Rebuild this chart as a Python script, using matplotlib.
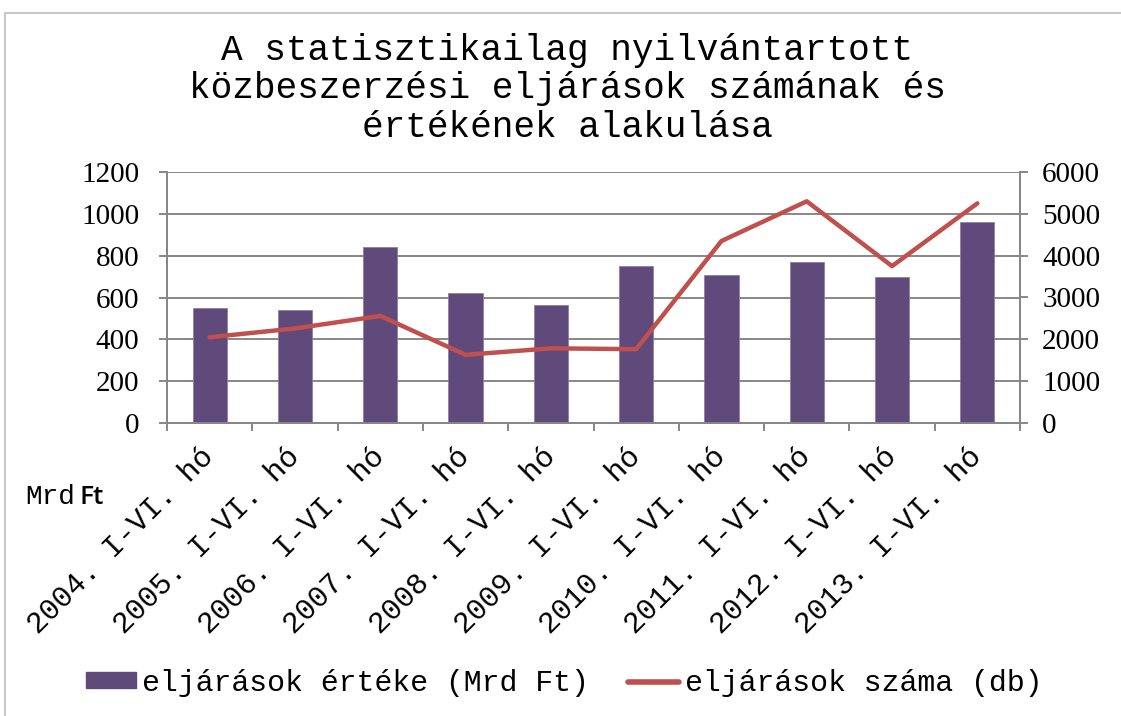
import matplotlib
matplotlib.use("Agg")
import matplotlib.pyplot as plt
from matplotlib.patches import Patch, Rectangle
from matplotlib.lines import Line2D
import numpy as np

categories = ["2004. I-VI. hó", "2005. I-VI. hó", "2006. I-VI. hó", "2007. I-VI. hó",
              "2008. I-VI. hó", "2009. I-VI. hó", "2010. I-VI. hó", "2011. I-VI. hó",
              "2012. I-VI. hó", "2013. I-VI. hó"]
ertek = [550, 540, 840, 620, 565, 750, 706, 771, 696, 960]
szam = [2050, 2260, 2560, 1630, 1785, 1765, 4350, 5300, 3750, 5250]
left_ticks = [0, 200, 400, 600, 800, 1000, 1200]
right_ticks = [0, 1000, 2000, 3000, 4000, 5000, 6000]

title = "A statisztikailag nyilvántartott\nközbeszerzési eljárások számának és\nértékének alakulása"

BAR = "#604A7B"
LINE = "#C0504D"
GRID = "#878787"
MONO = "Liberation Mono"
SERIF = "Liberation Serif"

fig = plt.figure(figsize=(11.21, 7.16), dpi=100)
ax = fig.add_axes([167/1121, 1-423/716, (1020-167)/1121, (423-172)/716])
ax2 = ax.twinx()

x = np.arange(len(categories))
ax.bar(x, ertek, width=0.4, color=BAR, edgecolor="#8E7FA5", linewidth=0.6, zorder=3)
ax.set_xlim(-0.5, len(categories) - 0.5)
ax.set_ylim(0, 1200)
ax.set_yticks(left_ticks)
ax.set_yticklabels([str(v) for v in left_ticks], fontfamily=SERIF, fontsize=21)
ax.yaxis.grid(True, color=GRID, linewidth=1.4, zorder=0)
ax.set_axisbelow(True)

ax2.plot(x, szam, color=LINE, linewidth=3.2, solid_capstyle="round", zorder=4)
ax2.set_ylim(0, 6000)
ax2.set_yticks(right_ticks)
ax2.set_yticklabels([str(v) for v in right_ticks], fontfamily=SERIF, fontsize=21)

ax.set_xticks(x)
ax.set_xticklabels(categories, rotation=45, ha="right", va="center",
                   rotation_mode="anchor", fontfamily=MONO, fontsize=21.5)
ax.set_xticks(np.arange(-0.5, len(categories)), minor=True)
ax.tick_params(axis="x", which="major", length=0, pad=21)
ax.tick_params(axis="x", which="minor", length=6, color=GRID, width=1.4, direction="out")
ax.tick_params(axis="y", length=6, color=GRID, width=1.4, pad=14)
ax2.tick_params(axis="y", length=6, color=GRID, width=1.4, pad=10)

for a in (ax, ax2):
    a.spines["top"].set_visible(False)
    for s in ("left", "right", "bottom"):
        a.spines[s].set_color(GRID)
        a.spines[s].set_linewidth(1.4)

fig.text(0.506, 1 - 89/716, title, ha="center", va="center", fontfamily=MONO,
         fontsize=26, linespacing=1.12)

fig.text(25/1121, 1 - 497/716, "Mrd", ha="left", va="center", fontfamily=MONO, fontsize=20)
fig.text(80/1121, 1 - 497/716, "Ft", ha="left", va="center", fontfamily="Open Sans",
         fontsize=19, fontweight="semibold")

handles = [Patch(facecolor=BAR, edgecolor=BAR),
           Line2D([0], [0], color=LINE, linewidth=4, solid_capstyle="round")]
labels = ["eljárások értéke (Mrd Ft)", "eljárások száma (db)"]
fig.legend(handles, labels, loc="center", bbox_to_anchor=(0.503, 1 - 683/716), ncol=2,
           frameon=False, prop={"family": MONO, "size": 21.5}, handlelength=1.7,
           handleheight=0.45, handletextpad=0.2, columnspacing=1.3)

fig.patches.append(Rectangle((5/1121, -0.1), 1.2, 1 - 13/716 + 0.1, transform=fig.transFigure,
                             fill=False, edgecolor="#C8C8C8", linewidth=1.5))

fig.savefig("out.png", dpi=100)
